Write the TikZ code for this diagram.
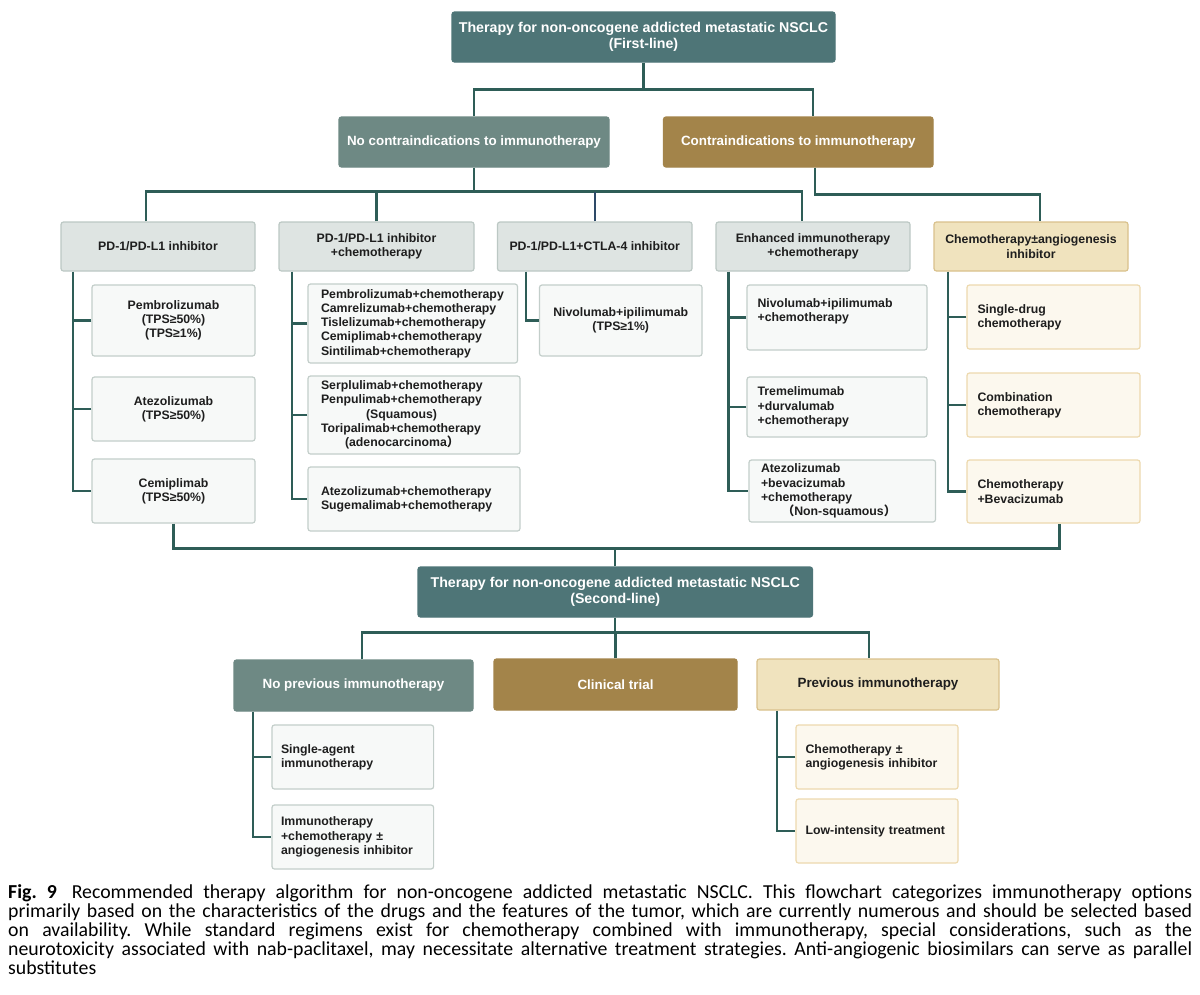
\documentclass[tikz,border=0pt]{standalone}
\usepackage{fontspec}
\setmainfont{Liberation Sans}
\newfontfamily\capfont{Carlito}
\newfontfamily\cjkfont{Noto Sans CJK SC}
\definecolor{cmain}{HTML}{4E7577}
\definecolor{cgrey}{HTML}{6E8984}
\definecolor{cgold}{HTML}{A3844A}
\definecolor{ccatf}{HTML}{DEE4E2}
\definecolor{ccatd}{HTML}{BCC8C4}
\definecolor{cyelf}{HTML}{F0E3BE}
\definecolor{cyeld}{HTML}{D9C18C}
\definecolor{cleaff}{HTML}{F7F9F8}
\definecolor{cleafd}{HTML}{C3CECA}
\definecolor{cyleaff}{HTML}{FCF8EE}
\definecolor{cyleafd}{HTML}{EDD9AE}
\definecolor{cline}{HTML}{2E5D57}
\definecolor{cblue}{HTML}{2E4A68}
\definecolor{ctext}{HTML}{1E1E1E}
\newcommand\bx[7]{\node[#6, align=center, inner sep=0pt, minimum width={#4-#2}, minimum height={#5-#3}] (#1) at ({(#2+#4)/2},{(#3+#5)/2}) {#7};}
\newcommand\bxl[8]{\node[#7, align=left, inner xsep=#1, inner ysep=0pt, text width={#5-#3-2*#1}, minimum height={#6-#4}] (#2) at ({(#3+#5)/2},{(#4+#6)/2}) {#8};}
\newcommand\fwl{{\cjkfont （}}
\newcommand\fwr{{\cjkfont ）}}
\newcommand\capline[1]{\leavevmode\hbox to 1184pt{\spaceskip=0.226em plus 1em minus 0.06em\relax #1}}
\begin{document}
\begin{tikzpicture}[x=1pt,y=-1pt,
  base/.style={rounded corners=2.5pt, line width=1.2pt},
  mainbox/.style={base, fill=cmain, draw=cmain, text=white, font=\bfseries\fontsize{14.2}{16}\selectfont},
  greybox/.style={base, fill=cgrey, draw=cgrey, text=white, font=\bfseries\fontsize{13.4}{15}\selectfont},
  goldbox/.style={base, fill=cgold, draw=cgold, text=white, font=\bfseries\fontsize{13.4}{15}\selectfont},
  yelhead/.style={base, fill=cyelf, draw=cyeld, text=ctext, font=\bfseries\fontsize{13.4}{15}\selectfont},
  catbox/.style={base, fill=ccatf, draw=ccatd, text=ctext, font=\bfseries\fontsize{12.3}{14.2}\selectfont},
  catybox/.style={base, fill=cyelf, draw=cyeld, text=ctext, font=\bfseries\fontsize{12.3}{14.2}\selectfont},
  leafbox/.style={base, fill=cleaff, draw=cleafd, text=ctext, font=\bfseries\fontsize{12.3}{14.2}\selectfont},
  leafybox/.style={base, fill=cyleaff, draw=cyleafd, text=ctext, font=\bfseries\fontsize{12.3}{14.2}\selectfont},
  conn/.style={draw=cline, line width=2.4pt},
  connb/.style={draw=cblue, line width=2.4pt}
]
\useasboundingbox (0,0) rectangle (1200,994);
\fill[white] (0,0) rectangle (1200,994);

% ---------- first line ----------
\bx{top}{452}{12}{835}{62}{mainbox}{Therapy for non-oncogene addicted metastatic NSCLC\\(First-line)}
\bx{nocontra}{339}{117}{609}{167}{greybox}{No contraindications to immunotherapy}
\bx{contra}{663.5}{117}{933}{167}{goldbox}{Contraindications to immunotherapy}

\bx{pd1}{61}{222}{255}{271}{catbox}{PD-1/PD-L1 inhibitor}
\bx{pdc}{279}{222}{474}{271}{catbox}{PD-1/PD-L1 inhibitor\\+chemotherapy}
\bx{ctla}{497.5}{222}{692}{271}{catbox}{PD-1/PD-L1+CTLA-4 inhibitor}
\bx{enh}{716}{222}{910}{271}{catbox}{Enhanced immunotherapy\\+chemotherapy}
\bx{chy}{934}{222}{1128}{271}{catybox}{Chemotherapy±angiogenesis\\inhibitor}

% column 1
\bx{pembro}{92}{285}{255}{356}{leafbox}{Pembrolizumab\\(TPS≥50\%)\\(TPS≥1\%)}
\bx{atezo}{92}{377}{255}{441}{leafbox}{Atezolizumab\\(TPS≥50\%)}
\bx{cemi}{92}{459}{255}{523}{leafbox}{Cemiplimab\\(TPS≥50\%)}

% column 2
\bxl{13}{pc1}{308}{284}{517.5}{363}{leafbox}{Pembrolizumab+chemotherapy\\Camrelizumab+chemotherapy\\Tislelizumab+chemotherapy\\Cemiplimab+chemotherapy\\Sintilimab+chemotherapy}
\bxl{13}{pc2}{308}{376}{520}{454}{leafbox}{Serplulimab+chemotherapy\\Penpulimab+chemotherapy\\\hspace*{45pt}(Squamous)\\Toripalimab+chemotherapy\\\hspace*{24pt}(adenocarcinoma\fwr}
\bxl{13}{pc3}{308}{467}{520}{531}{leafbox}{Atezolizumab+chemotherapy\\Sugemalimab+chemotherapy}

% column 3
\bx{nivo}{539.5}{285}{702}{356}{leafbox}{Nivolumab+ipilimumab\\(TPS≥1\%)}

% column 4
\bxl{10.6}{e1}{747}{285}{927}{350}{leafbox}{Nivolumab+ipilimumab\\+chemotherapy\\\mbox{}}
\bxl{10.6}{e2}{747}{377}{927}{437}{leafbox}{Tremelimumab\\+durvalumab\\+chemotherapy}
\bxl{12}{e3}{749}{460}{935.5}{522}{leafbox}{Atezolizumab\\+bevacizumab\\+chemotherapy\\\hspace*{21pt}\fwl Non-squamous\fwr}

% column 5
\bxl{10.5}{c1}{967}{285}{1140}{349}{leafybox}{Single-drug\\chemotherapy}
\bxl{10.5}{c2}{967}{373}{1140}{437}{leafybox}{Combination\\chemotherapy}
\bxl{10.5}{c3}{967}{460}{1140}{523}{leafybox}{Chemotherapy\\+Bevacizumab}

% ---------- second line ----------
\bx{sec}{418}{567}{812.5}{617}{mainbox}{Therapy for non-oncogene addicted metastatic NSCLC\\(Second-line)}
\bx{noprev}{234}{660}{473}{711}{greybox}{No previous immunotherapy}
\bx{clin}{494}{659}{737}{710}{goldbox}{Clinical trial}
\bx{prev}{757}{659}{999}{710}{yelhead}{Previous immunotherapy}

\bxl{9}{s1}{272}{725}{433.6}{789}{leafbox}{Single-agent\\immunotherapy}
\bxl{9}{s2}{272}{805}{433.6}{869}{leafbox}{Immunotherapy\\+chemotherapy ±\\angiogenesis inhibitor}
\bxl{9.6}{p1}{796}{725}{958}{789}{leafybox}{Chemotherapy ±\\angiogenesis inhibitor}
\bxl{9.6}{p2}{796}{799}{958}{863}{leafybox}{Low-intensity treatment}

% ---------- connectors ----------
\draw[conn] (top.south) -- ++(0,27) coordinate (tbus);
\draw[conn] (nocontra.north) |- (tbus) -| ([xshift=15]contra.north);

\draw[conn] (nocontra.south) -- ++(0,25);
\draw[conn] ([xshift=-12]pd1.north) -- ++(0,-30) -| ([xshift=-11]enh.north);
\draw[conn] (pdc.north) -- ++(0,-30);
\draw[connb] (ctla.north) -- ++(0,-29);
\draw[conn] ([xshift=17]contra.south) -- ++(0,27) -| ([xshift=9]chy.north);

% column 1
\draw[conn] ([xshift=-85]pd1.south) |- (cemi.west);
\draw[conn] (pembro.west) -- ++(-19,0);
\draw[conn] (atezo.west) -- ++(-19,0);
% column 2
\draw[conn] ([xshift=-84.5]pdc.south) |- (pc3.west);
\draw[conn] (pc1.west) -- ++(-16,0);
\draw[conn] (pc2.west) -- ++(-16,0);
% column 3
\draw[conn] ([xshift=-68.5]ctla.south) |- (nivo.west);
% column 4
\draw[conn] ([xshift=-84.4]enh.south) |- (e3.west);
\draw[conn] (e1.west) -- ++(-18.4,0);
\draw[conn] (e2.west) -- ++(-18.4,0);
% column 5
\draw[conn] ([xshift=-83]chy.south) |- (c3.west);
\draw[conn] (c1.west) -- ++(-19,0);
\draw[conn] (c2.west) -- ++(-19,0);

% merge into second line
\draw[conn] (cemi.south) -- ++(0,25) -| ([xshift=6]c3.south);
\draw[conn] (sec.north) -- ++(0,-19);

\draw[conn] (sec.south) -- ++(0,16);
\draw[conn] ([xshift=8.5]noprev.north) -- ++(0,-27) -| ([xshift=-9]prev.north);
\draw[conn] (clin.north) -- ++(0,-26);

\draw[conn] ([xshift=-100.5]noprev.south) |- (s2.west);
\draw[conn] (s1.west) -- ++(-19,0);
\draw[conn] ([xshift=-101]prev.south) |- (p2.west);
\draw[conn] (p1.west) -- ++(-19,0);

% ---------- caption ----------
\node[anchor=north west, inner sep=0pt, text width=1184pt, align=left,
  font=\capfont\fontsize{19.8}{19}\selectfont\frenchspacing] (cap) at (8,884.5)
{\capline{\textbf{Fig.~9}\hspace{0.75em}Recommended therapy algorithm for non-oncogene addicted metastatic NSCLC. This flowchart categorizes immunotherapy options}\\
\capline{primarily based on the characteristics of the drugs and the features of the tumor, which are currently numerous and should be selected based}\\
\capline{on availability. While standard regimens exist for chemotherapy combined with immunotherapy, special considerations, such as the}\\
\capline{neurotoxicity associated with nab-paclitaxel, may necessitate alternative treatment strategies. Anti-angiogenic biosimilars can serve as parallel}\\
substitutes};
\end{tikzpicture}
\end{document}
